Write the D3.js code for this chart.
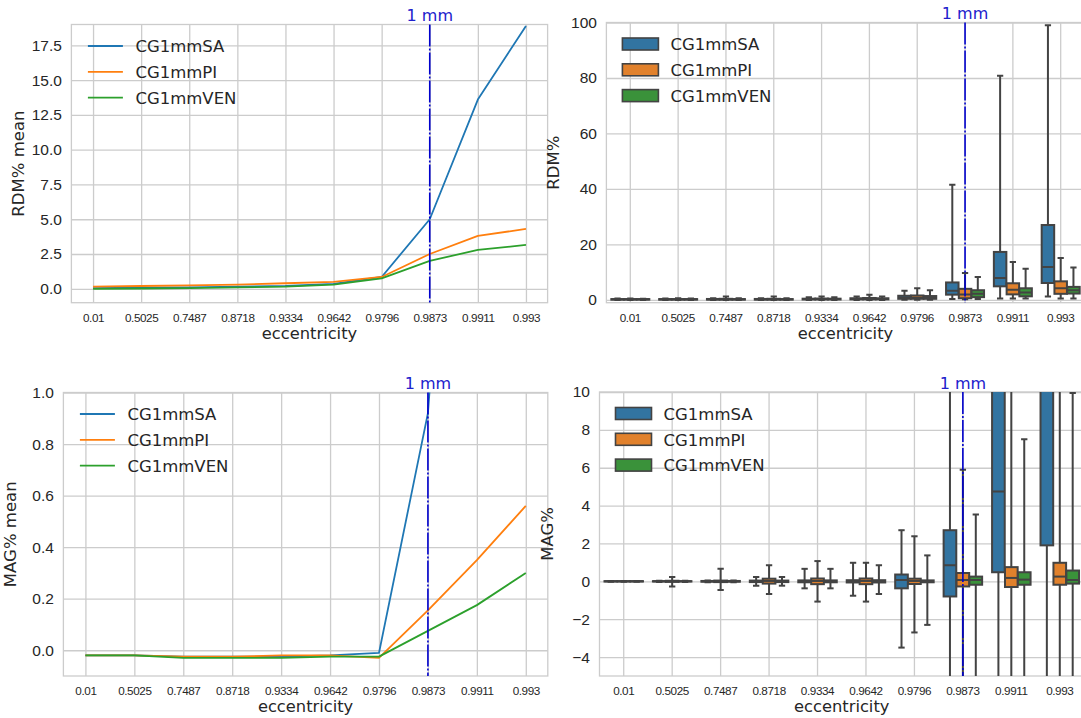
<!DOCTYPE html>
<html><head><meta charset="utf-8">
<script src="https://cdn.jsdelivr.net/npm/d3@7"></script>
<style>
body{margin:0;background:#fff;}
svg{display:block;font-family:"DejaVu Sans",sans-serif;}
</style></head><body>
<svg id="chart" width="1081" height="718"></svg>
<script>
// ---------------- data ----------------
const categories = ["0.01","0.5025","0.7487","0.8718","0.9334","0.9642","0.9796","0.9873","0.9911","0.993"];
const seriesNames = ["CG1mmSA","CG1mmPI","CG1mmVEN"];
const markerCategory = "0.9873";
const markerLabel = "1 mm";
const xLabel = "eccentricity";

// mean line plots
const rdmMeanSA  = [0.05,0.08,0.10,0.15,0.20,0.35,0.85,5.0,13.6,18.9];
const rdmMeanPI  = [0.15,0.20,0.25,0.30,0.40,0.50,0.85,2.5,3.8,4.3];
const rdmMeanVEN = [0.00,0.02,0.05,0.10,0.15,0.30,0.75,2.0,2.8,3.15];
const magMeanSA  = [-0.02,-0.02,-0.025,-0.025,-0.025,-0.02,-0.01,0.92,3.5,6.0];
const magMeanPI  = [-0.02,-0.02,-0.025,-0.025,-0.02,-0.02,-0.03,0.155,0.35,0.56];
const magMeanVEN = [-0.02,-0.02,-0.03,-0.03,-0.03,-0.025,-0.025,0.075,0.175,0.30];

// box stats: [whisker low, q1, median, q3, whisker high]
const rdmBoxSA = [[0,0.1,0.2,0.3,0.5],[0,0.1,0.2,0.3,0.5],[0,0.1,0.2,0.35,0.6],[0,0.1,0.2,0.35,0.6],[0,0.15,0.3,0.45,1.0],
  [0,0.2,0.35,0.6,1.2],[0.1,0.4,0.8,1.5,3.3],[0.3,1.9,3.3,6.3,41.5],[0.5,4.9,7.9,17.3,80.8],[1.2,6.1,11.9,27,99]];
const rdmBoxPI = [[0,0.1,0.2,0.3,0.5],[0,0.1,0.2,0.3,0.6],[0,0.1,0.25,0.4,1.2],[0,0.1,0.25,0.4,1.2],[0,0.15,0.3,0.5,1.2],
  [0,0.2,0.4,0.7,1.9],[0.1,0.4,0.8,1.6,4.2],[0.2,0.6,2.0,4.0,9.7],[0.5,2.0,3.7,6.0,13.7],[0.5,2.2,4.2,6.7,15.1]];
const rdmBoxVEN = [[0,0.1,0.2,0.3,0.4],[0,0.1,0.2,0.3,0.5],[0,0.1,0.2,0.3,0.6],[0,0.1,0.2,0.3,0.6],[0,0.15,0.3,0.45,1.0],
  [0,0.2,0.35,0.6,1.2],[0.1,0.4,0.7,1.4,3.5],[0.3,1.0,2.2,3.5,8.3],[0.5,1.3,2.7,4.2,11.2],[0.5,2.3,3.5,4.7,11.7]];
const magBoxSA = [[-0.02,-0.01,0,0.01,0.02],[-0.03,-0.01,0,0.01,0.03],[-0.05,-0.02,0,0.02,0.05],[-0.23,-0.04,0,0.04,0.23],[-0.37,-0.05,0,0.05,0.66],
  [-0.76,-0.06,0,0.06,0.98],[-3.5,-0.37,0.07,0.36,2.7],[-9,-0.8,0.85,2.7,14],[-15,0.48,4.74,16,30],[-12,1.9,12,30,45]];
const magBoxPI = [[-0.02,-0.01,0,0.01,0.02],[-0.27,-0.03,0,0.03,0.23],[-0.46,-0.04,0,0.04,0.66],[-0.67,-0.12,0.02,0.14,0.85],[-1.07,-0.15,0.02,0.15,1.07],
  [-1.07,-0.15,0.02,0.15,0.98],[-2.7,-0.14,0.02,0.14,2.38],[-6.5,-0.27,0.07,0.44,5.9],[-8,-0.3,0.18,0.75,12],[-9,-0.18,0.25,0.98,13]];
const magBoxVEN = [[-0.02,-0.01,0,0.01,0.02],[-0.03,-0.01,0,0.01,0.03],[-0.05,-0.02,0,0.02,0.05],[-0.23,-0.04,0,0.04,0.23],[-0.37,-0.05,0,0.05,0.66],
  [-0.67,-0.06,0,0.06,0.85],[-2.3,-0.05,0,0.05,1.37],[-6,-0.18,0.07,0.25,3.53],[-7,-0.18,0.09,0.48,7.5],[-8,-0.12,0.07,0.57,9.95]];

// tick values
const rdmMeanTicks = [0,2.5,5,7.5,10,12.5,15,17.5];
const rdmBoxTicks = [0,20,40,60,80,100];
const magMeanTicks = [0,0.2,0.4,0.6,0.8,1.0];
const magBoxTicks = [-4,-2,0,2,4,6,8,10];

// ---------------- style ----------------
const lineColors = ["#1f77b4","#ff7f0e","#2ca02c"];
const boxColors = ["#3274a1","#e1812c","#3a923a"];
const boxEdge = "#434343";
const gridColor = "#cccccc";
const textColor = "#262626";
const markerColor = "#0000cc";

const svg = d3.select("#chart");
let clipId = 0;

function frame(p, yDomain, yTicks, yFmt, yLabel) {
  const g = svg.append("g");
  const y = d3.scaleLinear().domain(yDomain).range([p.bottom, p.top]);
  const yAxis = g.append("g").attr("transform", `translate(${p.left},0)`)
    .call(d3.axisLeft(y).tickValues(yTicks).tickFormat(d3.format(yFmt))
      .tickSizeInner(-(p.right - p.left)).tickSizeOuter(0).tickPadding(9.5));
  yAxis.select(".domain").remove();
  yAxis.selectAll("line").attr("stroke", gridColor).attr("stroke-width", 1.3);
  yAxis.selectAll("text").attr("fill", textColor).style("font-size", "15.5px");
  g.append("text").attr("transform", `translate(${p.left - 47},${(p.top + p.bottom) / 2}) rotate(-90)`)
    .attr("text-anchor", "middle").attr("fill", textColor).style("font-size", "16.5px").text(yLabel);
  g.append("text").attr("x", (p.left + p.right) / 2).attr("y", p.bottom + 36)
    .attr("text-anchor", "middle").attr("fill", textColor).style("font-size", "16.3px").text(xLabel);
  const id = "clip" + (clipId++);
  svg.append("clipPath").attr("id", id).append("rect")
    .attr("x", p.left).attr("y", p.top).attr("width", p.right - p.left).attr("height", p.bottom - p.top);
  return {g, y, clip: `url(#${id})`};
}

function styleXAxis(ax) {
  ax.select(".domain").remove();
  ax.selectAll("line").attr("stroke", gridColor).attr("stroke-width", 1.3);
  ax.selectAll("text").attr("fill", textColor).style("font-size", "11.7px").style("letter-spacing", "-0.4px");
}

function border(g, p) {
  g.append("rect").attr("x", p.left).attr("y", p.top).attr("width", p.right - p.left).attr("height", p.bottom - p.top)
    .attr("fill", "none").attr("stroke", gridColor).attr("stroke-width", 1.3);
}

function marker(g, p, xPos) {
  g.append("line").attr("x1", xPos).attr("x2", xPos).attr("y1", p.top).attr("y2", p.bottom)
    .attr("stroke", markerColor).attr("stroke-width", 1.6).attr("stroke-dasharray", "22,2,2,2");
  g.append("text").attr("x", xPos).attr("y", p.top - 3.5).attr("text-anchor", "middle")
    .attr("fill", "#2020cc").style("font-size", "16px").text(markerLabel);
}

function linePanel(p, seriesData, yDomain, yTicks, yFmt, yLabel) {
  const {g, y, clip} = frame(p, yDomain, yTicks, yFmt, yLabel);
  const x = d3.scaleLinear().domain([-0.45, categories.length - 1 + 0.45]).range([p.left, p.right]);
  const xAxis = g.append("g").attr("transform", `translate(0,${p.bottom})`)
    .call(d3.axisBottom(x).tickValues(d3.range(categories.length)).tickFormat(i => categories[i])
      .tickSizeInner(-(p.bottom - p.top)).tickSizeOuter(0).tickPadding(10.8));
  styleXAxis(xAxis);
  border(g, p);
  const line = d3.line().x((d, i) => x(i)).y(d => y(d));
  seriesData.forEach((vals, k) => {
    g.append("path").attr("d", line(vals)).attr("fill", "none").attr("clip-path", clip)
      .attr("stroke", lineColors[k]).attr("stroke-width", 1.8).attr("stroke-linejoin", "round");
  });
  marker(g, p, x(categories.indexOf(markerCategory)));
  seriesNames.forEach((name, k) => {
    const ly = p.top + 21.5 + k * 25.8;
    g.append("line").attr("x1", p.left + 16.5).attr("x2", p.left + 51.5).attr("y1", ly).attr("y2", ly)
      .attr("stroke", lineColors[k]).attr("stroke-width", 1.8);
    g.append("text").attr("x", p.left + 64).attr("y", ly + 6.2).attr("fill", textColor)
      .style("font-size", "16.5px").text(name);
  });
}

function boxPanel(p, seriesData, yDomain, yTicks, yFmt, yLabel) {
  const {g, y, clip} = frame(p, yDomain, yTicks, yFmt, yLabel);
  const x = d3.scaleBand().domain(categories).range([p.left, p.right]).padding(0);
  const xAxis = g.append("g").attr("transform", `translate(0,${p.bottom})`)
    .call(d3.axisBottom(x).tickSizeInner(-(p.bottom - p.top)).tickSizeOuter(0).tickPadding(10.8));
  styleXAxis(xAxis);
  border(g, p);
  const bw = x.bandwidth();
  const hue = d3.scaleBand().domain(seriesNames).range([-0.4 * bw, 0.4 * bw]);
  const boxW = hue.bandwidth() * 0.98;
  const capW = boxW * 0.5;
  const body = g.append("g").attr("clip-path", clip);
  seriesData.forEach((stats, k) => {
    stats.forEach((s, i) => {
      const cx = x(categories[i]) + bw / 2 + hue(seriesNames[k]) + hue.bandwidth() / 2;
      const [lo, q1, med, q3, hi] = s;
      const bg = body.append("g").attr("stroke", boxEdge).attr("stroke-width", 2);
      bg.append("line").attr("x1", cx).attr("x2", cx).attr("y1", y(q3)).attr("y2", y(hi));
      bg.append("line").attr("x1", cx).attr("x2", cx).attr("y1", y(q1)).attr("y2", y(lo));
      bg.append("line").attr("x1", cx - capW / 2).attr("x2", cx + capW / 2).attr("y1", y(hi)).attr("y2", y(hi));
      bg.append("line").attr("x1", cx - capW / 2).attr("x2", cx + capW / 2).attr("y1", y(lo)).attr("y2", y(lo));
      bg.append("rect").attr("x", cx - boxW / 2).attr("width", boxW)
        .attr("y", y(q3)).attr("height", Math.max(0, y(q1) - y(q3))).attr("fill", boxColors[k]);
      bg.append("line").attr("x1", cx - boxW / 2).attr("x2", cx + boxW / 2).attr("y1", y(med)).attr("y2", y(med));
    });
  });
  marker(g, p, x(markerCategory) + bw / 2);
  seriesNames.forEach((name, k) => {
    const ly = p.top + 21.5 + k * 25.8;
    g.append("rect").attr("x", p.left + 16).attr("y", ly - 6).attr("width", 36).attr("height", 12)
      .attr("fill", boxColors[k]).attr("stroke", boxEdge).attr("stroke-width", 1.6);
    g.append("text").attr("x", p.left + 64).attr("y", ly + 6.2).attr("fill", textColor)
      .style("font-size", "16.5px").text(name);
  });
}

linePanel({left: 71.4, right: 547.6, top: 24.5, bottom: 302.7},
  [rdmMeanSA, rdmMeanPI, rdmMeanVEN], [-1, 19], rdmMeanTicks, ".1f", "RDM% mean");
boxPanel({left: 606.4, right: 1084.6, top: 22.5, bottom: 302.7},
  [rdmBoxSA, rdmBoxPI, rdmBoxVEN], [-1, 100], rdmBoxTicks, "d", "RDM%");
linePanel({left: 63.4, right: 547.8, top: 392.5, bottom: 676},
  [magMeanSA, magMeanPI, magMeanVEN], [-0.1, 1.0], magMeanTicks, ".1f", "MAG% mean");
boxPanel({left: 599.5, right: 1084, top: 392, bottom: 676},
  [magBoxSA, magBoxPI, magBoxVEN], [-5, 10], magBoxTicks, "d", "MAG%");
</script>
</body></html>
